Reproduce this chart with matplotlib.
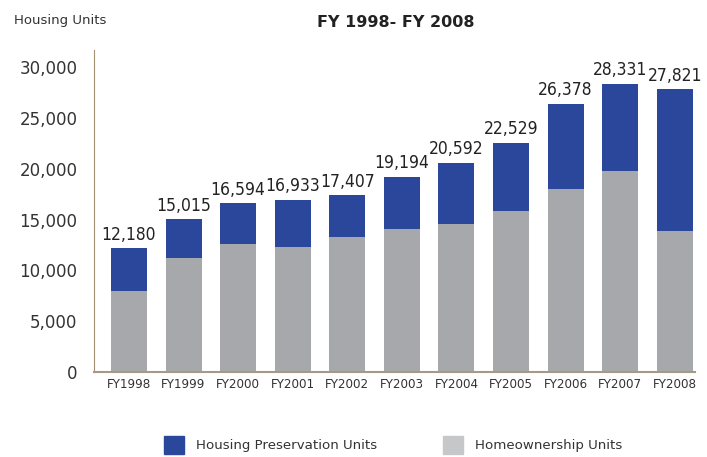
import numpy as np
import matplotlib.pyplot as plt
from matplotlib.patches import Patch

years = ['FY1998', 'FY1999', 'FY2000', 'FY2001', 'FY2002', 'FY2003',
         'FY2004', 'FY2005', 'FY2006', 'FY2007', 'FY2008']
totals = [12180, 15015, 16594, 16933, 17407, 19194, 20592, 22529, 26378, 28331, 27821]
homeownership = [7950, 11200, 12600, 12300, 13300, 14100, 14550, 15800, 18000, 19750, 13900]
preservation = [t - h for t, h in zip(totals, homeownership)]

blue = '#2b479c'
gray = '#a7a8ab'

fig = plt.figure(figsize=(7.07, 4.57), dpi=100)
ax = fig.add_axes([0.133, 0.186, 0.85, 0.705])

x = np.arange(len(years))
ax.bar(x, homeownership, width=0.66, color=gray)
ax.bar(x, preservation, width=0.66, bottom=homeownership, color=blue)

# total labels above the bars
for xi, t in zip(x, totals):
    ax.text(xi, t + 450, f'{t:,}', ha='center', va='bottom',
            fontsize=12.5, color='#222222', family='DejaVu Sans', stretch='condensed')

ax.set_xlim(-0.64, 10.37)
ax.set_ylim(0, 31700)
ax.set_yticks(np.arange(0, 30001, 5000))
ax.set_yticklabels([f'{v:,}' for v in range(0, 30001, 5000)], fontsize=12, color='#333333')
ax.set_xticks(x)
ax.set_xticklabels(years, fontsize=9.5, color='#333333', family='DejaVu Sans', stretch='condensed')
ax.tick_params(axis='both', length=0)
ax.tick_params(axis='y', pad=12)
ax.tick_params(axis='x', pad=4)

for s in ['top', 'right']:
    ax.spines[s].set_visible(False)
ax.spines['left'].set_color('#a39070')
ax.spines['bottom'].set_color('#a59a88')
ax.spines['bottom'].set_linewidth(1.5)

fig.text(0.56, 0.95, 'FY 1998- FY 2008', ha='center', va='center',
         fontsize=11.5, fontweight='bold', color='#222222')
fig.text(0.02, 0.955, 'Housing Units', ha='left', va='center',
         fontsize=9.5, color='#333333')

handles = [Patch(color=blue, label='Housing Preservation Units'),
           Patch(color='#c6c7c9', label='Homeownership Units')]
fig.legend(handles=handles, loc='center', bbox_to_anchor=(0.556, 0.026), ncol=2,
           frameon=False, fontsize=9.6, handlelength=1.5, handleheight=1.7,
           columnspacing=5.0, handletextpad=0.85, labelcolor='#333333')

fig.savefig('out.png', dpi=100)
